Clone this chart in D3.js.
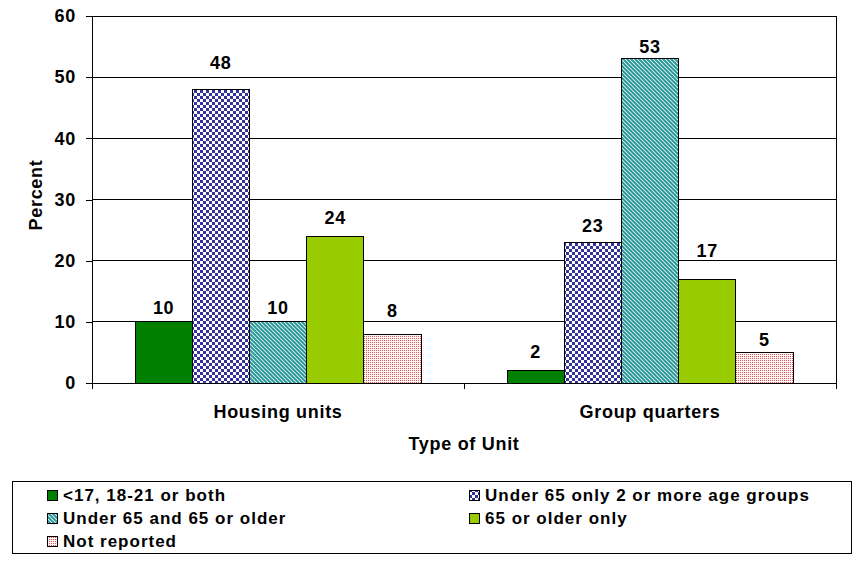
<!DOCTYPE html>
<html>
<head>
<meta charset="utf-8">
<script src="https://cdn.jsdelivr.net/npm/d3@7"></script>
<style>
  html, body { margin: 0; padding: 0; background: #fff; }
  svg { display: block; }
  text { font-family: "Liberation Sans", Arial, sans-serif; font-weight: bold; fill: #000; }
</style>
</head>
<body>
<svg id="chart" width="863" height="563"></svg>
<script>
// ---- Data ----
const categories = ["Housing units", "Group quarters"];
const seriesNames = [
  "<17, 18-21 or both",
  "Under 65 only 2 or more age groups",
  "Under 65 and 65 or older",
  "65 or older only",
  "Not reported"
];
const housingUnitsValues = [10, 48, 10, 24, 8];
const groupQuartersValues = [2, 23, 53, 17, 5];
const yTickValues = [0, 10, 20, 30, 40, 50, 60];
const xAxisTitle = "Type of Unit";
const yAxisTitle = "Percent";

const table = categories.map((c, i) => ({
  category: c,
  values: (i === 0 ? housingUnitsValues : groupQuartersValues)
}));

// label lift above bar top (layout only)
const labelLift = [[8, 20, 8, 12, 17], [13, 10, 6, 22, 6]];

// ---- Layout ----
const svg = d3.select("#chart");
const plot = { left: 92, right: 836, top: 16, bottom: 383 };

const defs = svg.append("defs");
const checker = defs.append("pattern").attr("id", "pChecker")
  .attr("patternUnits", "userSpaceOnUse").attr("width", 6).attr("height", 6);
checker.append("rect").attr("width", 6).attr("height", 6).attr("fill", "#ffffff");
checker.append("rect").attr("width", 3).attr("height", 3).attr("fill", "#333399");
checker.append("rect").attr("x", 3).attr("y", 3).attr("width", 3).attr("height", 3).attr("fill", "#333399");

const diag = defs.append("pattern").attr("id", "pDiag")
  .attr("patternUnits", "userSpaceOnUse").attr("width", 4).attr("height", 4);
diag.append("rect").attr("width", 4).attr("height", 4).attr("fill", "#ffffff");
diag.append("path").attr("d", "M-1,-1 L5,5 M-1,3 L1,5 M3,-1 L5,1")
  .attr("stroke", "#2a9898").attr("stroke-width", 2);

const dots = defs.append("pattern").attr("id", "pDots")
  .attr("patternUnits", "userSpaceOnUse").attr("width", 2).attr("height", 2);
dots.append("rect").attr("width", 2).attr("height", 2).attr("fill", "#fff2f2");
dots.append("rect").attr("width", 1).attr("height", 1).attr("fill", "#d85c5c");

const fills = ["#008000", "url(#pChecker)", "url(#pDiag)", "#99cc00", "url(#pDots)"];

const x0 = d3.scaleBand().domain(categories).range([plot.left, plot.right]).padding(0);
const x1 = d3.scaleBand().domain(seriesNames).range([43, x0.bandwidth() - 43]).padding(0);
const y = d3.scaleLinear().domain([0, 60]).range([plot.bottom, plot.top]);

// gridlines
svg.append("g").selectAll("line").data(yTickValues).join("line")
  .attr("x1", plot.left).attr("x2", plot.right)
  .attr("y1", d => y(d)).attr("y2", d => y(d))
  .attr("stroke", "#000").attr("stroke-width", 1).attr("shape-rendering", "crispEdges");

// right border
svg.append("line").attr("x1", plot.right).attr("x2", plot.right)
  .attr("y1", plot.top).attr("y2", plot.bottom + 6)
  .attr("stroke", "#000").attr("shape-rendering", "crispEdges");

// y axis
const yAxis = svg.append("g").attr("transform", `translate(${plot.left},0)`)
  .call(d3.axisLeft(y).tickValues(yTickValues).tickSize(6).tickPadding(10).tickFormat(d3.format("d")));
yAxis.select(".domain").remove();
yAxis.append("line").attr("x1", 0).attr("x2", 0).attr("y1", plot.top).attr("y2", plot.bottom + 6)
  .attr("stroke", "#000").attr("shape-rendering", "crispEdges");
yAxis.selectAll("line").attr("shape-rendering", "crispEdges");
yAxis.selectAll("text").attr("font-size", 18).style("letter-spacing", "0.7px")
  .attr("font-family", null).attr("fill", "#000");

// bottom ticks at category boundaries
const boundaries = [plot.left, x0(categories[1]), plot.right];
svg.append("g").selectAll("line").data(boundaries).join("line")
  .attr("x1", d => d).attr("x2", d => d)
  .attr("y1", plot.bottom).attr("y2", plot.bottom + 6)
  .attr("stroke", "#000").attr("shape-rendering", "crispEdges");

// category labels
svg.append("g").selectAll("text").data(categories).join("text")
  .attr("x", d => x0(d) + x0.bandwidth() / 2)
  .attr("y", 418)
  .attr("text-anchor", "middle")
  .attr("font-size", 18).style("letter-spacing", "0.7px")
  .text(d => d);

// bars
const groups = svg.append("g").selectAll("g").data(table).join("g")
  .attr("transform", d => `translate(${x0(d.category)},0)`);

groups.selectAll("rect").data(d => d.values.map((v, i) => ({ name: seriesNames[i], v, i })))
  .join("rect")
  .attr("x", d => x1(d.name))
  .attr("y", d => y(d.v))
  .attr("width", x1.bandwidth())
  .attr("height", d => y(0) - y(d.v))
  .attr("fill", d => fills[d.i])
  .attr("stroke", "#000").attr("stroke-width", 1)
  .attr("shape-rendering", "crispEdges");

groups.selectAll("text.val").data((d, gi) => d.values.map((v, i) => ({ name: seriesNames[i], v, i, gi })))
  .join("text").attr("class", "val")
  .attr("x", d => x1(d.name) + x1.bandwidth() / 2)
  .attr("y", d => y(d.v) - labelLift[d.gi][d.i])
  .attr("text-anchor", "middle")
  .attr("font-size", 18).style("letter-spacing", "0.7px")
  .text(d => d.v);

// axis titles
svg.append("text").attr("x", (plot.left + plot.right) / 2).attr("y", 450)
  .attr("text-anchor", "middle").attr("font-size", 18).style("letter-spacing", "0.7px")
  .text(xAxisTitle);
svg.append("text").attr("transform", "translate(42,195) rotate(-90)")
  .attr("text-anchor", "middle").attr("font-size", 18).style("letter-spacing", "0.7px")
  .text(yAxisTitle);

// legend
svg.append("rect").attr("x", 12.5).attr("y", 481.5).attr("width", 839).attr("height", 72)
  .attr("fill", "#fff").attr("stroke", "#000").attr("stroke-width", 1);
const legendCols = [47, 469];
const legendRows = [501, 524, 547];
const leg = svg.append("g").selectAll("g").data(seriesNames).join("g")
  .attr("transform", (d, i) => `translate(${legendCols[i % 2]},${legendRows[Math.floor(i / 2)]})`);
leg.append("rect").attr("x", 0.5).attr("y", -10.5).attr("width", 10).attr("height", 10)
  .attr("fill", (d, i) => fills[i]).attr("stroke", "#000").attr("stroke-width", 1);
leg.append("text").attr("x", 16).attr("y", 0)
  .attr("font-size", 17).style("letter-spacing", "1px")
  .text(d => d);
</script>
</body>
</html>
